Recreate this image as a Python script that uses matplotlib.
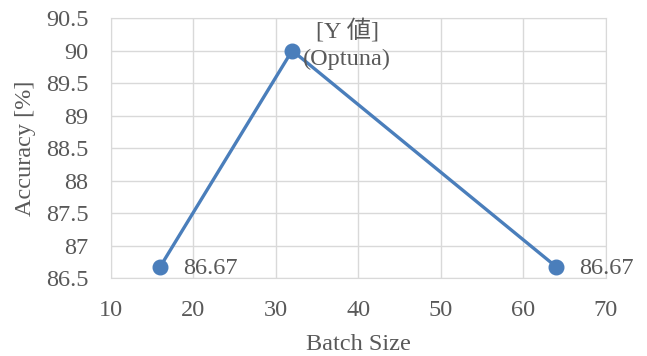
import matplotlib
matplotlib.use("Agg")
import matplotlib.pyplot as plt

batch_sizes = [16, 32, 64]
accuracy = [86.67, 90.0, 86.67]
point_labels = ["86.67", "[Y 値]\n(Optuna)", "86.67"]
x_ticks = [10, 20, 30, 40, 50, 60, 70]
y_ticks = [86.5, 87, 87.5, 88, 88.5, 89, 89.5, 90, 90.5]

fonts = ["Liberation Serif", "Noto Sans CJK JP"]
plt.rcParams["font.family"] = fonts
txt = "#595959"
grid = "#d9d9d9"
line_c = "#4a7ebb"
fs = 17.5

fig = plt.figure(figsize=(6.47, 3.56), dpi=100)
ax = fig.add_axes([0.1708, 0.2191, 0.7658, 0.7303])
ax.plot(batch_sizes, accuracy, color=line_c, lw=2.4, marker="o", ms=10.5, zorder=3, clip_on=False)
ax.set_xlim(10, 70)
ax.set_ylim(86.5, 90.5)
ax.set_xticks(x_ticks)
ax.set_yticks(y_ticks)
ax.set_xticklabels([str(v) for v in x_ticks])
ax.set_yticklabels([f"{v:g}" for v in y_ticks])
ax.grid(True, color=grid, lw=1)
ax.set_axisbelow(True)
for s in ax.spines.values():
    s.set_color(grid)
ax.tick_params(axis="y", length=0, labelsize=fs, colors=txt, pad=16)
ax.tick_params(axis="x", length=0, labelsize=fs, colors=txt, pad=16)
ax.set_xlabel("Batch Size", fontsize=fs, color=txt, labelpad=9)
ax.set_ylabel("Accuracy [%]", fontsize=fs, color=txt, labelpad=7)

offsets = [(16.5, -1), (39.5, 4.5), (16.5, -1)]
for x, y, lab, off in zip(batch_sizes, accuracy, point_labels, offsets):
    if "\n" in lab:
        ax.annotate(lab, (x, y), xytext=off, textcoords="offset points",
                    ha="center", va="center", fontsize=fs, color=txt, linespacing=1.42,
                    annotation_clip=False, zorder=4)
    else:
        ax.annotate(lab, (x, y), xytext=off, textcoords="offset points",
                    ha="left", va="center", fontsize=fs, color=txt, annotation_clip=False, zorder=4)

fig.savefig("out.png", dpi=100)
